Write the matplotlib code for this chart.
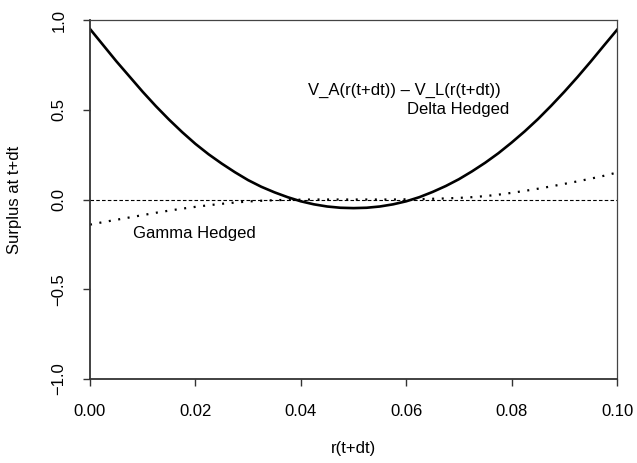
import matplotlib
matplotlib.use("Agg")
import matplotlib.pyplot as plt

plt.rcParams['font.family'] = ['Liberation Sans', 'DejaVu Sans']

r = [0.0000, 0.0025, 0.0050, 0.0075, 0.0100, 0.0125, 0.0150, 0.0175, 0.0200, 0.0225,
     0.0250, 0.0275, 0.0300, 0.0325, 0.0350, 0.0375, 0.0400, 0.0425, 0.0450, 0.0475,
     0.0500, 0.0525, 0.0550, 0.0575, 0.0600, 0.0625, 0.0650, 0.0675, 0.0700, 0.0725,
     0.0750, 0.0775, 0.0800, 0.0825, 0.0850, 0.0875, 0.0900, 0.0925, 0.0950, 0.0975,
     0.1000]
delta_hedged = [0.950, 0.860, 0.770, 0.685, 0.600, 0.520, 0.445, 0.375, 0.310, 0.252,
                0.200, 0.152, 0.108, 0.071, 0.040, 0.013, -0.010, -0.027, -0.039, -0.046,
                -0.048, -0.046, -0.039, -0.027, -0.010, 0.013, 0.042, 0.075, 0.113, 0.157,
                0.205, 0.258, 0.317, 0.380, 0.448, 0.522, 0.600, 0.682, 0.768, 0.857,
                0.945]
gamma_hedged = [-0.140, -0.126, -0.113, -0.100, -0.087, -0.074, -0.062, -0.051, -0.041, -0.032,
                -0.024, -0.017, -0.011, -0.007, -0.004, -0.002, -0.001, 0.000, 0.000, 0.000,
                0.000, 0.000, 0.000, 0.000, 0.001, 0.002, 0.004, 0.006, 0.009, 0.013,
                0.019, 0.027, 0.037, 0.048, 0.060, 0.073, 0.087, 0.101, 0.116, 0.132,
                0.150]
zero_x = [0.0, 0.1]
zero_line = [0.0, 0.0]

xticks = [0.00, 0.02, 0.04, 0.06, 0.08, 0.10]
xticklabels = ["0.00", "0.02", "0.04", "0.06", "0.08", "0.10"]
yticks = [-1.0, -0.5, 0.0, 0.5, 1.0]
yticklabels = ["\u22121.0", "\u22120.5", "0.0", "0.5", "1.0"]

W, H = 637, 463
fig = plt.figure(figsize=(W / 100, H / 100), dpi=100)
ax = fig.add_axes([90 / W, 1 - 379 / H, (617 - 90) / W, (379 - 20) / H])

ax.plot(r, delta_hedged, color='black', lw=1.9, solid_joinstyle='round')
ax.plot(r, gamma_hedged, color='black', lw=1.6, linestyle=(0, (0.9, 3.4)))
ax.plot(zero_x, zero_line, color='black', lw=0.8, linestyle=(0, (3.2, 2.0)))

ax.set_xlim(0.0, 0.1)
ax.set_ylim(-1.0, 1.0)
ax.set_xticks(xticks)
ax.set_xticklabels(xticklabels)
ax.set_yticks(yticks)
ax.set_yticklabels(yticklabels, rotation=90, va='center')

ax.tick_params(axis='both', direction='out', length=5, width=1.0, labelsize=12, color='#333333')
ax.tick_params(axis='x', pad=13)
ax.tick_params(axis='y', pad=12)

for side in ['left', 'bottom']:
    ax.spines[side].set_linewidth(1.3)
    ax.spines[side].set_color('#333333')
for side in ['top', 'right']:
    ax.spines[side].set_linewidth(0.9)
    ax.spines[side].set_color('#444444')

ax.text(0.0597, 0.605, "V_A(r(t+dt)) \u2013 V_L(r(t+dt))", ha='center', va='center', fontsize=12)
ax.text(0.0699, 0.503, "Delta Hedged", ha='center', va='center', fontsize=12)
ax.text(0.0199, -0.192, "Gamma Hedged", ha='center', va='center', fontsize=12)

fig.text(15 / W, 1 - 200 / H, "Surplus at t+dt", rotation=90, ha='center', va='center', fontsize=12)
fig.text(353.5 / W, 1 - 449 / H, "r(t+dt)", ha='center', va='center', fontsize=12)

fig.savefig("out.png", dpi=100)
